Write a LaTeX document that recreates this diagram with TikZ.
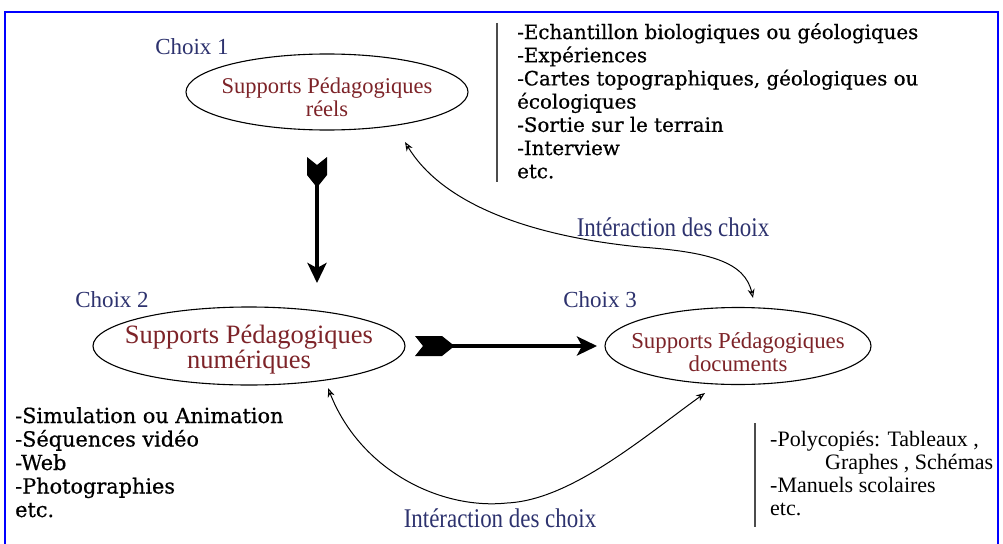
\documentclass[tikz,border=0pt]{standalone}
\usepackage{fontspec}
\setmainfont{Liberation Serif}
\newfontfamily\listfont[FakeBold=0.6]{DejaVu Serif}
\newfontfamily\condfont[FakeStretch=0.85]{Liberation Serif}
\usetikzlibrary{arrows.meta,shapes.geometric}

\definecolor{choixblue}{RGB}{45,50,110}
\definecolor{supportred}{RGB}{125,35,40}
\definecolor{framecol}{RGB}{0,0,255}

\begin{document}
\begin{tikzpicture}[x=1pt, y=-1pt,
    support/.style={ellipse, draw, line width=1.1pt, inner sep=-80pt, align=center, text=supportred, text depth=0pt},
    choix/.style={text=choixblue, font=\fontsize{23}{23}\selectfont},
    inter/.style={text=choixblue, font=\condfont\fontsize{27}{27}\selectfont},
    link/.style={line width=1pt, {Stealth[open,length=9pt,width=7pt]}-{Stealth[open,length=9pt,width=7pt]}},
    bigarrow/.style={line width=4pt, -{Stealth[length=20pt,width=19pt,inset=5pt]}},
    fletch/.pic={\fill (0,-10) -- (#1-10,-10) -- (#1,-2) -- (#1,2) -- (#1-10,10) -- (0,10) -- (8,0) -- cycle;},
    sep/.style={line width=1.5pt, black!70},
    liste/.style={anchor=north west, align=left, inner sep=0pt}]

\useasboundingbox (0,0) rectangle (1003,543);
\fill[white] (0,0) rectangle (1003,543);
\draw[framecol, line width=2.5pt] (5,12) rectangle (998,600);

% choix 1
\node[choix] (c1) at (192,47) {Choix 1};
\node[support, minimum width=282pt, minimum height=76pt, text height=48pt, font=\fontsize{22.5}{23}\selectfont] (e1) at (327,92) {Supports Pédagogiques\\réels};
\draw[sep] (497,23) -- (497,182);
\node[liste, font=\listfont\fontsize{19.8}{23.2}\selectfont] (l1) at (517,23) {-Echantillon biologiques ou géologiques\\-Expériences\\-Cartes topographiques, géologiques ou\\écologiques\\-Sortie sur le terrain\\-Interview\\etc.};

% choix 2
\node[choix] (c2) at (112,300) {Choix 2};
\node[support, minimum width=312pt, minimum height=78pt, text height=45pt, font=\fontsize{26.5}{23}\selectfont] (e2) at (249,346) {Supports Pédagogiques\\numériques};
\node[liste, font=\listfont\fontsize{20.8}{23.5}\selectfont] (l2) at (15,407) {-Simulation ou Animation\\-Séquences vidéo\\-Web\\-Photographies\\etc.};

% choix 3
\node[choix] (c3) at (600,300) {Choix 3};
\node[support, minimum width=266pt, minimum height=77pt, text height=50pt, font=\fontsize{22.8}{23}\selectfont] (e3) at (738,346) {Supports Pédagogiques\\documents};
\draw[sep] (755,423) -- (755,527);
\node[liste, font=\fontsize{22}{23}\selectfont] (l3) at (770,431) {-Polycopiés: Tableaux ,\\\hspace*{55pt}Graphes , Schémas\\-Manuels scolaires\\etc.};

% big arrows
\coordinate (v1) at (317,170);
\coordinate (v2) at (317,283);
\pic[rotate=-90] at (317,157) {fletch=28};
\draw[bigarrow] (v1) -- (v2);

\coordinate (h1) at (440,346);
\coordinate (h2) at (597,346);
\pic at (415,346) {fletch=37};
\draw[bigarrow] (h1) -- (h2);

% interactions
\coordinate (i1) at ([shift={(78,50)}]e1.center);
\coordinate (i3) at ([shift={(15,-48)}]e3.center);
\coordinate (i2) at ([shift={(79,42)}]e2.center);
\coordinate (i4) at ([shift={(-33,47)}]e3.center);

\draw[link] (i1) .. controls (440,200) and (520,235) .. (640,247)
    .. controls (710,252) and (745,262) .. (i3);
\node[inter] (t1) at (673,227) {Intéraction des choix};

\draw[link] (i2) .. controls (360,470) and (440,510) .. (507,503)
    .. controls (570,500) and (640,440) .. (i4);
\node[inter] (t2) at (500,518) {Intéraction des choix};

\end{tikzpicture}
\end{document}
